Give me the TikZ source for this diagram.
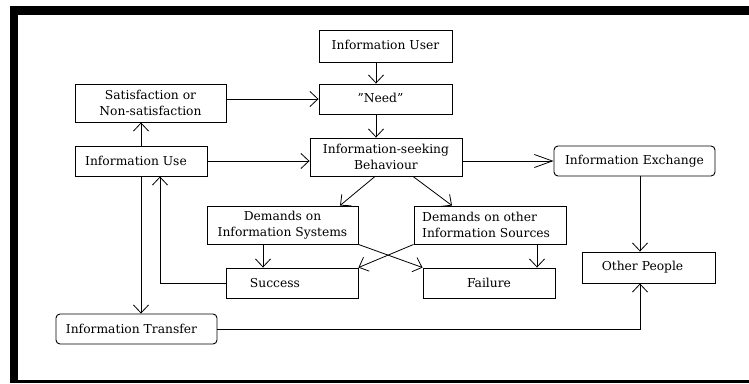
\documentclass[tikz,border=0pt]{standalone}
\usepackage{fontspec}
\setmainfont[Ligatures=NoCommon]{DejaVu Serif}
\usetikzlibrary{arrows.meta}
\begin{document}
\begin{tikzpicture}[x=1pt,y=-1pt,
  box/.style={draw, line width=0.9pt, inner sep=0pt, align=center,
    font=\fontsize{12.3}{15.5}\selectfont},
  rbox/.style={box, rounded corners=4pt},
  conn/.style={line width=0.8pt, -{Straight Barb[length=8pt,width=15pt,line width=0.8pt]}},
  frame/.style={fill=black, draw=none}]
\useasboundingbox (0,0) rectangle (749,383);
\fill[white] (0,0) rectangle (749,383);
% frame
\path[frame] (10,6) rectangle (749,15);
\path[frame] (10,6) rectangle (18,383);
\path[frame] (10,380) rectangle (749,383);
% nodes
\node[box, minimum width=133pt, minimum height=32pt] (user) at (385.5,46) {\raisebox{3pt}{Information User}};
\node[box, minimum width=133pt, minimum height=30pt] (need) at (385.5,99) {\raisebox{3pt}{\symbol{34}Need\symbol{34}\hspace{10pt}}};
\node[box, minimum width=151pt, minimum height=38pt] (sat) at (150.5,103) {Satisfaction or\\Non-satisfaction};
\node[box, minimum width=132pt, minimum height=30pt] (use) at (141,161) {Information Use\hspace{10pt}};
\node[box, minimum width=152pt, minimum height=38pt] (bhv) at (386,157) {Information-seeking\\Behaviour\hspace{20pt}};
\node[rbox, minimum width=161pt, minimum height=30pt] (exch) at (634.5,161) {Information Exchange};
\node[box, minimum width=151pt, minimum height=38pt] (dsys) at (282.5,225) {Demands on\\Information Systems};
\node[box, minimum width=152pt, minimum height=38pt] (doth) at (490,225) {};
\node[anchor=west, align=left, inner sep=0pt, font=\fontsize{12.3}{15.5}\selectfont] (dothtext) at (422,225) {Demands on other\\Information Sources};
\node[box, minimum width=132pt, minimum height=30pt] (succ) at (292,283) {\raisebox{-4pt}{Success}\hspace{34pt}};
\node[box, minimum width=132pt, minimum height=30pt] (fail) at (489,283) {\raisebox{-4pt}{Failure}};
\node[box, minimum width=133pt, minimum height=31pt] (oth) at (648.5,267.5) {Other People\hspace{12pt}};
\node[rbox, minimum width=161pt, minimum height=30pt] (trans) at (136.5,329) {\raisebox{-3pt}{Information Transfer}\hspace{10pt}};
% connectors
\draw[conn] ([xshift=-9.5pt]user.south) -- ([xshift=-9.5pt]need.north);
\draw[conn] ([xshift=-9.5pt]need.south) -- ([xshift=-10pt]bhv.north);
\draw[conn] (sat.east |- need.west) -- (need.west);
\draw[conn] (use.north) -- (use.north |- sat.south);
\draw[conn] (use.east) -- (use.east -| bhv.west);
\draw[conn] (use.south) -- (use.south |- trans.north);
\draw[conn] (succ.west) -| ([xshift=19pt]use.south);
\draw[conn] (trans.east) -| ([xshift=-8.5pt]oth.south);
\draw[conn, -{Straight Barb[length=18pt,width=13pt,line width=0.8pt]}] (bhv.east |- exch.west) -- (exch.west);
\draw[conn] ([xshift=5.5pt]exch.south) -- ([xshift=5.5pt]exch.south |- oth.north);
\draw[conn] ([xshift=-11pt]bhv.south) -- ([xshift=57.5pt]dsys.north);
\draw[conn] ([xshift=27pt]bhv.south) -- ([xshift=-38pt]doth.north);
\draw[conn] ([xshift=-19.5pt]dsys.south) -- ([xshift=-19.5pt]dsys.south |- succ.north);
\draw[conn] ([xshift=47pt]doth.south) -- ([xshift=47pt]doth.south |- fail.north);
\draw[conn] (dsys.south east) -- (fail.north west);
\draw[conn] (doth.south west) -- (succ.north east);
\end{tikzpicture}
\end{document}
